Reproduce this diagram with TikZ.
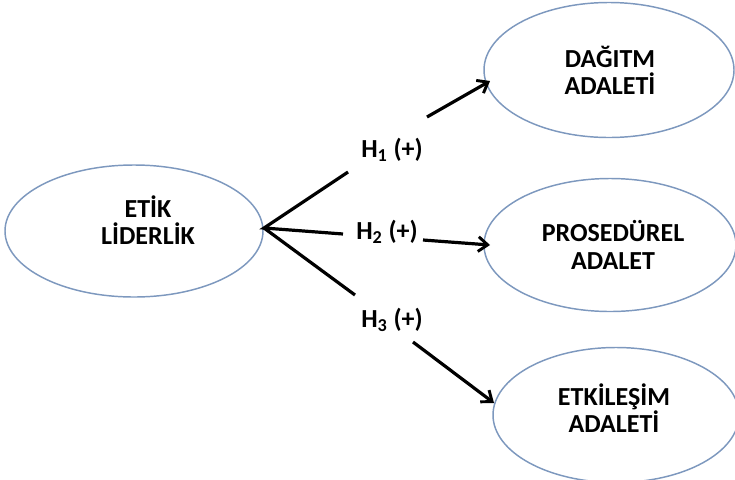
\documentclass[tikz,border=0pt]{standalone}
\usepackage{fontspec}
\setmainfont{Carlito}
\usetikzlibrary{shapes.geometric,arrows.meta}
\definecolor{ellblue}{RGB}{125,152,190}
\tikzset{
  ell/.style={draw=ellblue, line width=1.1pt, ellipse, inner sep=0pt},
  lbl/.style={font=\fontsize{19.5}{20.5}\selectfont\bfseries, inner sep=0pt, align=center},
  hlbl/.style={font=\fontsize{19.5}{20}\selectfont\bfseries, inner sep=0pt},
  link/.style={line width=2.4pt, black},
  arr/.style={line width=2.4pt, black, -{Straight Barb[length=7pt,width=11pt,line width=2.2pt]}}
}
\begin{document}
\begin{tikzpicture}[x=0.75pt,y=-0.75pt]
\useasboundingbox (0,0) rectangle (735,479);
% ellipses
\node[ell, minimum width=258*0.75pt, minimum height=132*0.75pt] (etik) at (134,231) {};
\node[ell, minimum width=250*0.75pt, minimum height=135*0.75pt] (dag) at (609,70) {};
\node[ell, minimum width=252*0.75pt, minimum height=133*0.75pt] (pro) at (610,245) {};
\node[ell, minimum width=246*0.75pt, minimum height=135*0.75pt] (etk) at (616,415) {};
% texts
\node[lbl] (etikt) at (148,220) {ET\.IK\\L\.IDERL\.IK};
\node[lbl] (dagt) at (610,70) {DAĞITM\\ADALET\.I};
\node[lbl] (prot) at (613,245) {PROSEDÜREL\\ADALET};
\node[lbl] (etkt) at (614,408) {ETK\.ILEŞ\.IM\\ADALET\.I};
% labels
\node[hlbl] (h1) at (392,150) {H\textsubscript{1} (+)};
\node[hlbl] (h2) at (387,232) {H\textsubscript{2} (+)};
\node[hlbl] (h3) at (392,320) {H\textsubscript{3} (+)};
% coordinates
\coordinate (j) at (264,228);
\coordinate (a1) at (348,172);
\coordinate (b1) at (427,117);
\coordinate (t1) at (490,81);
\coordinate (a2) at (343,234);
\coordinate (b2) at (423,240);
\coordinate (t2) at (490,245);
\coordinate (a3) at (355,295);
\coordinate (b3) at (413,342);
\coordinate (t3) at (494,403);
% connectors
\draw[link] (a1) -- (j) -- (a2);
\draw[link] (j) -- (a3);
\draw[arr] (b1) -- (t1);
\draw[arr] (b2) -- (t2);
\draw[arr] (b3) -- (t3);
\end{tikzpicture}
\end{document}
